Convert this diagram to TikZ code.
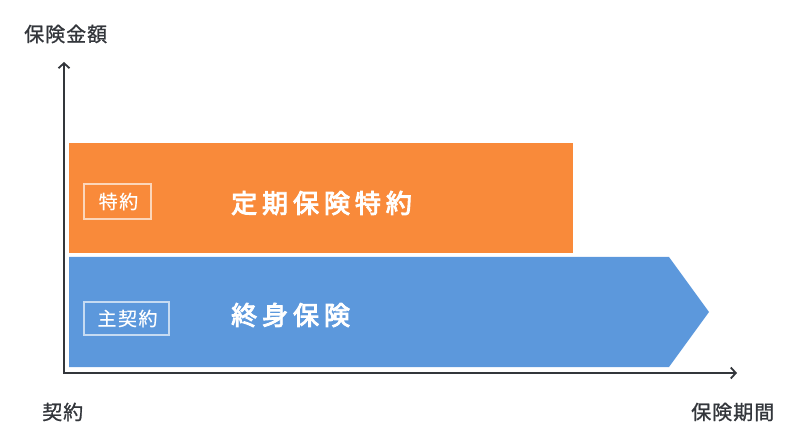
\documentclass[tikz,border=0pt]{standalone}
\usepackage{fontspec}
\setmainfont{Noto Sans CJK JP}
\usetikzlibrary{arrows.meta}
\definecolor{axisc}{HTML}{33363B}
\definecolor{orangec}{HTML}{F98A3A}
\definecolor{bluec}{HTML}{5C98DC}
\tikzset{
  axis/.style={draw=axisc, line width=2pt, -{Straight Barb[length=5pt,width=11pt,line width=1.8pt]}},
  axislabel/.style={text=axisc, font=\fontsize{20}{20}\selectfont\addfontfeatures{LetterSpace=5,FakeBold=1}, inner sep=0pt, anchor=west},
  tag/.style={draw=white, draw opacity=0.65, line width=1.2pt, text=white, inner sep=0pt, font=\fontsize{19}{19}\selectfont\addfontfeatures{LetterSpace=8,FakeBold=1}},
  big/.style={text=white, inner sep=0pt, anchor=west, font=\fontsize{26}{26}\selectfont\addfontfeatures{LetterSpace=19,FakeBold=3.5}}
}
\begin{document}
\begin{tikzpicture}[x=1pt,y=-1pt]
\useasboundingbox (0,0) rectangle (800,446);
% bars
\fill[orangec] (69,143) rectangle (573,253);
\fill[bluec] (69,257) -- (669,257) -- (709,312) -- (669,367) -- (69,367) -- cycle;
% axes
\coordinate (o) at (64,373);
\coordinate (ytip) at (64,62);
\coordinate (xtip) at (737,373);
\draw[axis] (64,374) -- (ytip);
\draw[axis] (63,373) -- (xtip);
% axis labels
\node[axislabel] (ylab) at (24,34) {保険金額};
\node[axislabel] (start) at (42,412) {契約};
\node[axislabel] (xlab) at (691,412) {保険期間};
% tags
\node[tag, minimum width=67pt, minimum height=35pt] (tag1) at (117.5,201.5) {\hspace{2pt}特約};
\node[tag, minimum width=85pt, minimum height=33pt] (tag2) at (126.5,318.5) {\hspace{2pt}主契約};
% main labels
\node[big] (rider) at (231,203) {定期保険特約};
\node[big] (whole) at (231,315) {終身保険};
\end{tikzpicture}
\end{document}
